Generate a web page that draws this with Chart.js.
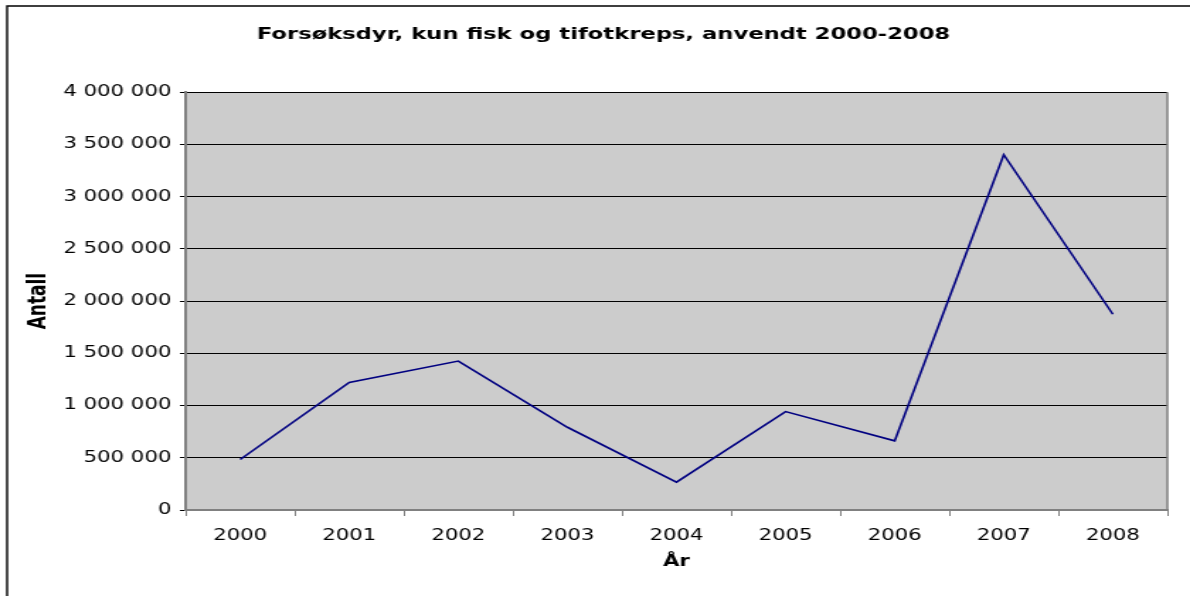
<!DOCTYPE html>
<html>
<head>
<meta charset="utf-8">
<script src="https://cdn.jsdelivr.net/npm/chart.js@4.4.1/dist/chart.umd.min.js"></script>
<style>
  html, body { margin: 0; padding: 0; background: #fff; overflow: hidden; }
  #wrap {
    position: absolute; left: 0; top: 0;
    width: 840px; height: 596px;
    transform: scaleX(1.4167); transform-origin: 0 0;
  }
</style>
</head>
<body>
<div id="wrap"><canvas id="chart"></canvas></div>
<script>
// data
const years = ["2000", "2001", "2002", "2003", "2004", "2005", "2006", "2007", "2008"];
const antall = [484000, 1221000, 1426000, 792000, 267000, 942000, 662000, 3401000, 1874000];
const yTicks = [0, 500000, 1000000, 1500000, 2000000, 2500000, 3000000, 3500000, 4000000];

const fmt = v => String(v).replace(/\B(?=(\d{3})+(?!\d))/g, " ");

// grey plot area, right border and outer frame
const frame = {
    id: "frame",
    afterLayout(chart) {
        // title sits a little right of centre in the original
        if (chart.titleBlock) chart.titleBlock.left += 28;
    },
    beforeDraw(chart) {
        const { ctx, chartArea: a } = chart;
        ctx.save();
        ctx.fillStyle = "#cccccc";
        ctx.fillRect(a.left, a.top, a.right - a.left, a.bottom - a.top);
        ctx.restore();
    },
    afterDraw(chart) {
        const { ctx, chartArea: a } = chart;
        ctx.save();
        ctx.strokeStyle = "#808080";
        ctx.lineWidth = 1.5;
        ctx.beginPath();
        ctx.moveTo(a.right, a.top);
        ctx.lineTo(a.right, a.bottom);
        ctx.stroke();
        ctx.strokeStyle = "#000";
        ctx.lineWidth = 1.4;
        ctx.beginPath();
        ctx.moveTo(5, 600);
        ctx.lineTo(5, 6);
        ctx.lineTo(850, 6);
        ctx.stroke();
        ctx.restore();
    }
};

const ctx = document.getElementById("chart").getContext("2d");
new Chart(ctx, {
    type: "line",
    data: {
        labels: years,
        datasets: [{
            label: "Antall",
            data: antall,
            borderColor: "#000080",
            borderWidth: 1.6,
            pointRadius: 0,
            tension: 0,
            fill: false
        }]
    },
    options: {
        responsive: true,
        maintainAspectRatio: false,
        animation: false,
        layout: { padding: { left: 0, right: 16, top: 0, bottom: 0 } },
        plugins: {
            legend: { display: false },
            tooltip: { enabled: false },
            title: {
                display: true,
                text: "Forsøksdyr, kun fisk og tifotkreps, anvendt 2000-2008",
                color: "#000",
                font: { family: "DejaVu Sans", size: 16, weight: "bold" },
                padding: { top: 25, bottom: 48 }
            }
        },
        scales: {
            x: {
                offset: true,
                grid: { offset: true, drawOnChartArea: false, drawTicks: true, tickLength: 6, color: "#808080" },
                border: { color: "#808080", width: 2 },
                ticks: { color: "#000", font: { family: "DejaVu Sans", size: 15 }, padding: 11, maxRotation: 0 },
                title: {
                    display: true, text: "År", color: "#000",
                    font: { family: "DejaVu Sans", size: 15, weight: "bold" },
                    padding: { top: 0, bottom: 25 }
                },
                afterFit(scale) { scale.height = 86; }
            },
            y: {
                min: 0,
                max: 4000000,
                afterBuildTicks(scale) { scale.ticks = yTicks.map(v => ({ value: v })); },
                grid: { color: "#000", lineWidth: 1, tickLength: 4 },
                border: { color: "#808080", width: 2 },
                ticks: {
                    color: "#000",
                    font: { family: "DejaVu Sans", size: 15 },
                    padding: 6,
                    callback: v => fmt(v)
                },
                title: {
                    display: true, text: "Antall", color: "#000",
                    font: { family: "DejaVu Sans", size: 17, weight: "bold" },
                    padding: { top: 17, bottom: 0 }
                },
                afterFit(scale) { scale.width = 131; }
            }
        }
    },
    plugins: [frame]
});
</script>
</body>
</html>
